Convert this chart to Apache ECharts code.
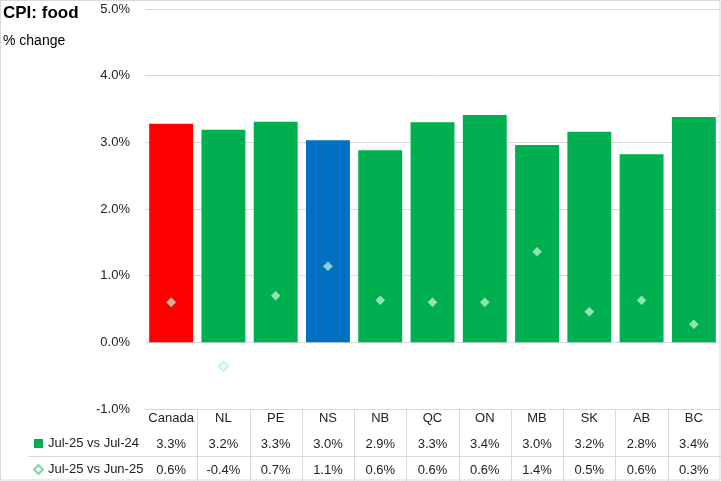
<!DOCTYPE html>
<html>
<head>
<meta charset="utf-8">
<script src="https://cdn.jsdelivr.net/npm/echarts@6/dist/echarts.min.js"></script>
<style>html,body{margin:0;padding:0;background:#fff}#c{width:721px;height:481px}</style>
</head>
<body>
<div id="c"></div>
<script>
const categories = ['Canada','NL','PE','NS','NB','QC','ON','MB','SK','AB','BC'];
const yoy = [3.28,3.19,3.31,3.03,2.88,3.30,3.41,2.96,3.16,2.82,3.38];
const mom = [0.60,-0.36,0.70,1.14,0.63,0.60,0.60,1.36,0.46,0.63,0.27];
const yTicks = [-1,0,1,2,3,4,5];
const seriesNames = ['Jul-25 vs Jul-24','Jul-25 vs Jun-25'];

const FONT = 'Liberation Sans, Arial, sans-serif';
const GREEN = '#00B050';
const special = {Canada:'#FF0000', NS:'#0070C0'};
const fmt = v => (Math.round(v*10)/10).toFixed(1) + '%';

const W = 721, H = 481, gridL = 145, gridR = 1, gridT = 9, gridB = 72;
const plotBottom = H - gridB;
const colW = (W - gridL - gridR) / categories.length;

const chart = echarts.init(document.getElementById('c'), null, {renderer:'canvas'});

const tableLines = [];
for (let k = 1; k < categories.length; k++) {
  const x = Math.round(gridL + k*colW) + 0.5;
  tableLines.push({type:'line', shape:{x1:x, y1:plotBottom, x2:x, y2:H}, style:{stroke:'#D9D9D9', lineWidth:1}, silent:true});
}
tableLines.push({type:'line', shape:{x1:28, y1:456.5, x2:W, y2:456.5}, style:{stroke:'#D9D9D9', lineWidth:1}, silent:true});
tableLines.push({type:'rect', shape:{x:0.5, y:0.5, width:W-1.5, height:H-1.5}, style:{fill:'none', stroke:'#D9D9D9', lineWidth:1}, silent:true});

chart.setOption({
  animation:false,
  backgroundColor:'#fff',
  textStyle:{fontFamily:FONT},
  title:{
    text:'CPI: food', subtext:'% change', left:3, top:5, itemGap:12, padding:0,
    textStyle:{fontFamily:FONT, fontSize:17, fontWeight:'bold', color:'#000'},
    subtextStyle:{fontFamily:FONT, fontSize:14, color:'#000'}
  },
  legend:{
    orient:'vertical', left:33, top:437, padding:0, itemWidth:9, itemHeight:9, itemGap:13,
    textStyle:{fontFamily:FONT, fontSize:13, color:'#222'},
    data:[{name:seriesNames[0], icon:'rect'},{name:seriesNames[1], icon:'diamond'}]
  },
  grid:{left:gridL, right:gridR, top:gridT, bottom:gridB, containLabel:false},
  xAxis:{
    type:'category', data:categories,
    axisLine:{show:false}, axisTick:{show:false},
    axisLabel:{
      margin:-4, interval:0,
      formatter:(v,i)=>`{h|${v}}\n{v|${fmt(yoy[i])}}\n{v|${fmt(mom[i])}}`,
      rich:{
        h:{fontFamily:FONT, fontSize:13, lineHeight:26, color:'#222'},
        v:{fontFamily:FONT, fontSize:13, lineHeight:26, color:'#222'}
      }
    }
  },
  yAxis:{
    type:'value', min:yTicks[0], max:yTicks[yTicks.length-1], interval:1,
    axisLine:{show:false}, axisTick:{show:false},
    axisLabel:{margin:15, fontFamily:FONT, fontSize:13, color:'#222', formatter:v=>v.toFixed(1)+'%'},
    splitLine:{lineStyle:{color:'#D9D9D9', width:1}}
  },
  series:[
    {
      name:seriesNames[0], type:'bar', barCategoryGap:'16%',
      itemStyle:{color:GREEN},
      data:yoy.map((v,i)=>special[categories[i]] ? {value:v, itemStyle:{color:special[categories[i]]}} : v),
      z:2
    },
    {
      name:seriesNames[1], type:'scatter', symbol:'diamond', symbolSize:10,
      itemStyle:{opacity:1, color:'rgba(215,255,230,0.66)', borderColor:'rgba(0,165,80,0.45)', borderWidth:0.8},
      data:mom, z:3
    }
  ],
  graphic:tableLines
});
</script>
</body>
</html>
